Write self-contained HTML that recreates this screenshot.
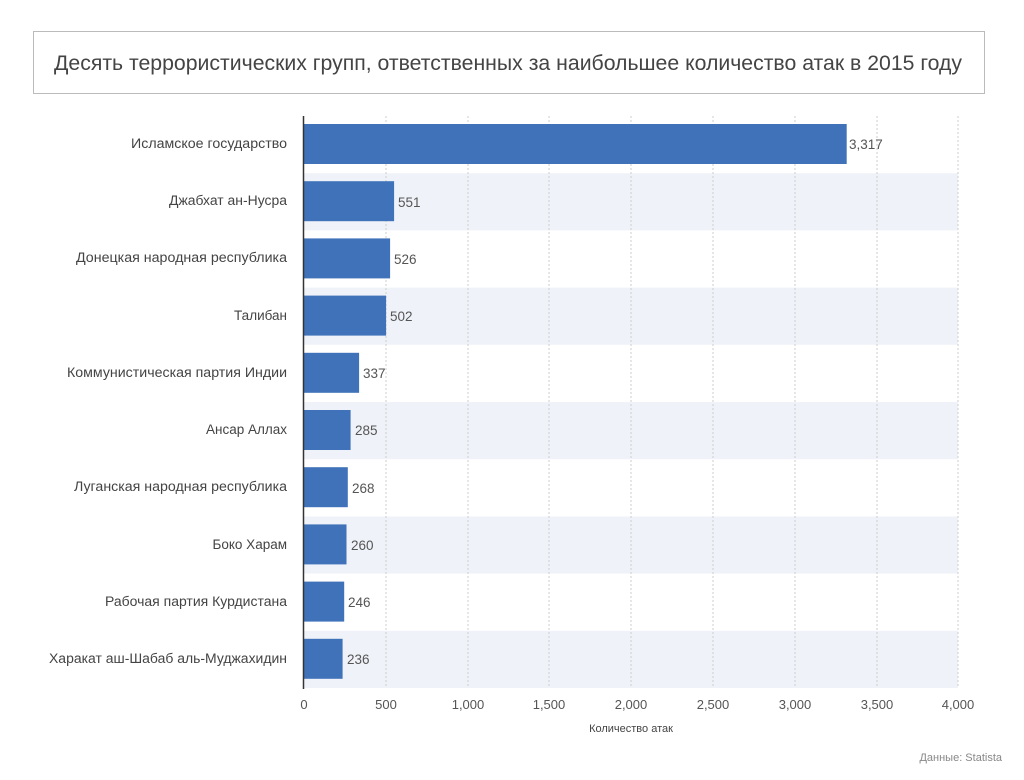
<!DOCTYPE html>
<html><head><meta charset="utf-8"><style>
body{margin:0;background:#fff;}
svg{display:block;font-family:"Liberation Sans","DejaVu Sans",sans-serif;}
</style></head><body>
<svg width="1024" height="780" viewBox="0 0 1024 780" xmlns="http://www.w3.org/2000/svg">
<rect x="33.5" y="31.5" width="951" height="62" fill="#fff" stroke="#bbb"/>
<text x="508" y="70" text-anchor="middle" font-size="21" fill="#444" textLength="908" lengthAdjust="spacingAndGlyphs">Десять террористических групп, ответственных за наибольшее количество атак в 2015 году</text>
<g fill="#eff3f9">
<rect x="304" y="173.2" width="654" height="57.2"/>
<rect x="304" y="287.6" width="654" height="57.2"/>
<rect x="304" y="402" width="654" height="57.2"/>
<rect x="304" y="516.4" width="654" height="57.2"/>
<rect x="304" y="630.8" width="654" height="57.2"/>
</g>
<g stroke="#ccc" stroke-dasharray="2,2" stroke-width="1">
<line x1="386" y1="116" x2="386" y2="688"/><line x1="468" y1="116" x2="468" y2="688"/>
<line x1="549" y1="116" x2="549" y2="688"/><line x1="631" y1="116" x2="631" y2="688"/>
<line x1="713" y1="116" x2="713" y2="688"/><line x1="795" y1="116" x2="795" y2="688"/>
<line x1="877" y1="116" x2="877" y2="688"/><line x1="958" y1="116" x2="958" y2="688"/>
</g>
<g fill="#3f72b9">
<rect x="304" y="124" width="542.7" height="40"/>
<rect x="304" y="181.2" width="90.1" height="40"/>
<rect x="304" y="238.4" width="86.1" height="40"/>
<rect x="304" y="295.6" width="82.1" height="40"/>
<rect x="304" y="352.8" width="55.1" height="40"/>
<rect x="304" y="410" width="46.6" height="40"/>
<rect x="304" y="467.2" width="43.8" height="40"/>
<rect x="304" y="524.4" width="42.5" height="40"/>
<rect x="304" y="581.6" width="40.2" height="40"/>
<rect x="304" y="638.8" width="38.6" height="40"/>
</g>
<line x1="303.5" y1="116" x2="303.5" y2="689" stroke="#333" stroke-width="1.5"/>
<g font-size="13.5" fill="#555">
<text x="849" y="149">3,317</text>
<text x="398" y="207">551</text>
<text x="394" y="264">526</text>
<text x="390" y="321">502</text>
<text x="363" y="378">337</text>
<text x="355" y="435">285</text>
<text x="352" y="493">268</text>
<text x="351" y="550">260</text>
<text x="348" y="607">246</text>
<text x="347" y="664">236</text>
</g>
<g font-size="13.5" fill="#444" text-anchor="end">
<text x="287" y="148" textLength="156" lengthAdjust="spacingAndGlyphs">Исламское государство</text>
<text x="287" y="205" textLength="118" lengthAdjust="spacingAndGlyphs">Джабхат ан-Нусра</text>
<text x="287" y="262" textLength="211" lengthAdjust="spacingAndGlyphs">Донецкая народная республика</text>
<text x="287" y="320">Талибан</text>
<text x="287" y="377" textLength="220" lengthAdjust="spacingAndGlyphs">Коммунистическая партия Индии</text>
<text x="287" y="434">Ансар Аллах</text>
<text x="287" y="491" textLength="213" lengthAdjust="spacingAndGlyphs">Луганская народная республика</text>
<text x="287" y="549">Боко Харам</text>
<text x="287" y="606" textLength="182" lengthAdjust="spacingAndGlyphs">Рабочая партия Курдистана</text>
<text x="287" y="663" textLength="238" lengthAdjust="spacingAndGlyphs">Харакат аш-Шабаб аль-Муджахидин</text>
</g>
<g font-size="13" fill="#555" text-anchor="middle">
<text x="304" y="709">0</text><text x="386" y="709">500</text><text x="468" y="709">1,000</text>
<text x="549" y="709">1,500</text><text x="631" y="709">2,000</text><text x="713" y="709">2,500</text>
<text x="795" y="709">3,000</text><text x="877" y="709">3,500</text><text x="958" y="709">4,000</text>
</g>
<text x="631" y="732" text-anchor="middle" font-size="11" fill="#444">Количество атак</text>
<text x="1002" y="761" text-anchor="end" font-size="11" fill="#888">Данные: Statista</text>
</svg>
</body></html>
